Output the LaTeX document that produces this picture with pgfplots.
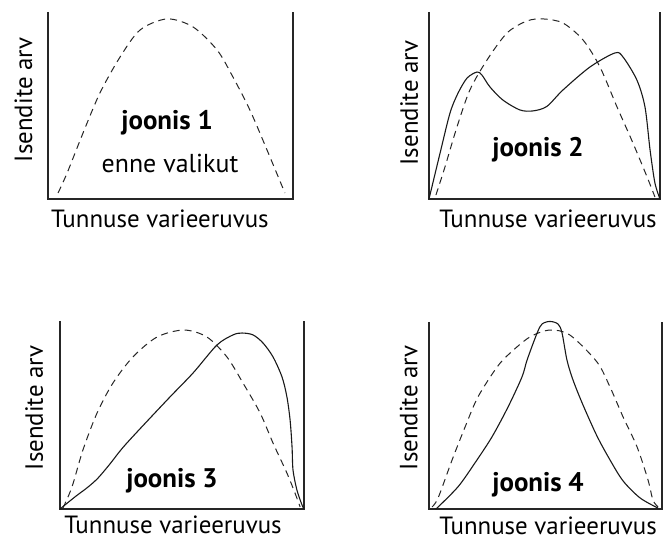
\documentclass[border=0pt]{standalone}
\usepackage{pgfplots}
\pgfplotsset{compat=1.18}
\usepackage{fontspec}
\setmainfont{PT Sans}
\begin{document}
\begin{tikzpicture}
\path[use as bounding box] (0bp,0bp) rectangle (667bp,544bp);
\pgfplotsset{
  panel/.style={scale only axis, xmin=0, xmax=1, ymin=0, ymax=1, hide axis, clip=false, anchor=south west},
}
\tikzset{
  frame/.style={black!85, line width=1.1bp},
  dsh/.style={black!85, line width=1bp, dash pattern=on 7bp off 5bp, smooth},
  sol/.style={black!90, line width=1.1bp, smooth},
  lab/.style={font=\fontsize{25}{29}\selectfont},
  elab/.style={font=\fontsize{26}{30}\selectfont},
  blab/.style={font=\fontsize{27}{31}\selectfont\bfseries},
}
% Panel 1
\begin{axis}[panel, at={(48bp,345bp)}, width=245bp, height=187bp]
\addplot[frame] coordinates {(0,1) (0,0) (1,0) (1,1)};
\addplot[dsh] coordinates {(0.041,0.032) (0.078,0.139) (0.143,0.353) (0.212,0.567) (0.294,0.759) (0.376,0.904) (0.486,0.963) (0.592,0.920) (0.690,0.797) (0.755,0.652) (0.824,0.476) (0.894,0.262) (0.967,0.032)};
\node[blab, anchor=base] at (axis cs:0.486,0.369) {joonis 1};
\node[elab, anchor=base] at (axis cs:0.498,0.144) {enne valikut};
\node[lab, anchor=base] at (axis cs:0.457,-0.15) {Tunnuse varieeruvus};
\node[lab, anchor=base, rotate=90] at (axis cs:-0.065,0.53) {Isendite arv};
\end{axis}
% Panel 2
\begin{axis}[panel, at={(429bp,345bp)}, width=231bp, height=187bp]
\addplot[frame] coordinates {(0,1) (0,0) (1,0) (1,1)};
\addplot[dsh] coordinates {(0.030,0.021) (0.069,0.171) (0.121,0.385) (0.177,0.583) (0.251,0.743) (0.338,0.888) (0.424,0.952) (0.494,0.963) (0.580,0.941) (0.667,0.850) (0.740,0.706) (0.814,0.492) (0.883,0.299) (0.944,0.118) (0.978,0.011)};
\addplot[sol] coordinates {(0,0) (0.048,0.246) (0.091,0.460) (0.126,0.567) (0.165,0.647) (0.208,0.679) (0.229,0.663) (0.264,0.599) (0.320,0.529) (0.394,0.476) (0.450,0.471) (0.510,0.495) (0.580,0.583) (0.697,0.706) (0.805,0.781) (0.840,0.759) (0.900,0.636) (0.935,0.492) (0.957,0.262) (0.978,0.086) (1,0)};
\node[blab, anchor=base] at (axis cs:0.472,0.225) {joonis 2};
\node[lab, anchor=base] at (axis cs:0.515,-0.15) {Tunnuse varieeruvus};
\node[lab, anchor=base, rotate=90] at (axis cs:-0.048,0.513) {Isendite arv};
\end{axis}
% Panel 3
\begin{axis}[panel, at={(60bp,35bp)}, width=244bp, height=188bp]
\addplot[frame] coordinates {(0,1) (0,0) (1,0) (1,1)};
\addplot[dsh] coordinates {(0.012,0.005) (0.049,0.117) (0.094,0.314) (0.152,0.511) (0.217,0.670) (0.299,0.809) (0.398,0.915) (0.508,0.952) (0.602,0.915) (0.684,0.809) (0.750,0.670) (0.820,0.511) (0.873,0.351) (0.930,0.191) (0.963,0.085) (0.984,0.011)};
\addplot[sol] coordinates {(0,0) (0.061,0.064) (0.115,0.117) (0.156,0.165) (0.205,0.240) (0.270,0.345) (0.439,0.580) (0.545,0.723) (0.643,0.872) (0.709,0.926) (0.746,0.936) (0.791,0.926) (0.832,0.883) (0.873,0.809) (0.910,0.702) (0.930,0.596) (0.943,0.473) (0.951,0.330) (0.955,0.207) (0.971,0.101) (0.992,0.021) (1,0)};
\node[blab, anchor=base] at (axis cs:0.459,0.112) {joonis 3};
\node[lab, anchor=base] at (axis cs:0.463,-0.128) {Tunnuse varieeruvus};
\node[lab, anchor=base, rotate=90] at (axis cs:-0.07,0.537) {Isendite arv};
\end{axis}
% Panel 4
\begin{axis}[panel, at={(429bp,35bp)}, width=233bp, height=187bp]
\addplot[frame] coordinates {(0,1) (0,0) (1,0) (1,1)};
\addplot[dsh] coordinates {(0.013,0.011) (0.039,0.059) (0.099,0.262) (0.155,0.439) (0.210,0.599) (0.292,0.759) (0.348,0.834) (0.433,0.920) (0.519,0.957) (0.605,0.930) (0.721,0.786) (0.777,0.652) (0.833,0.492) (0.893,0.332) (0.940,0.155) (0.961,0.048) (0.983,0.011)};
\addplot[sol] coordinates {(0.030,0) (0.124,0.118) (0.197,0.246) (0.270,0.385) (0.339,0.545) (0.399,0.706) (0.421,0.797) (0.464,0.941) (0.485,0.989) (0.519,1.003) (0.554,0.989) (0.571,0.941) (0.592,0.797) (0.618,0.690) (0.661,0.556) (0.721,0.390) (0.777,0.262) (0.833,0.150) (0.906,0.059) (0.983,0.005)};
\node[blab, anchor=base] at (axis cs:0.468,0.091) {joonis 4};
\node[lab, anchor=base] at (axis cs:0.511,-0.139) {Tunnuse varieeruvus};
\node[lab, anchor=base, rotate=90] at (axis cs:-0.05,0.54) {Isendite arv};
\end{axis}
\end{tikzpicture}
\end{document}
